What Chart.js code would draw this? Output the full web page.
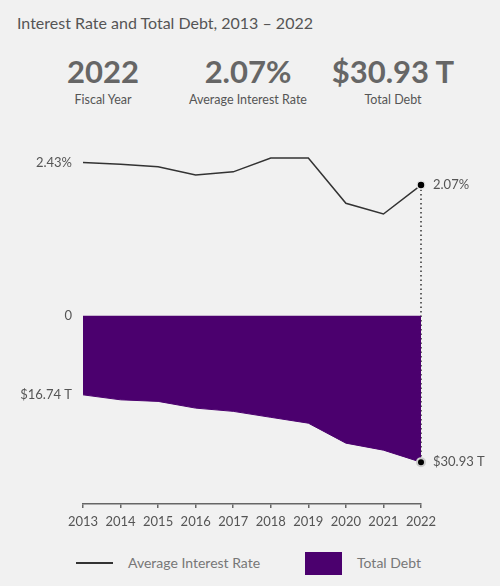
<!DOCTYPE html>
<html>
<head>
<meta charset="utf-8">
<script src="https://cdn.jsdelivr.net/npm/chart.js@4/dist/chart.umd.min.js"></script>
<style>
  body { margin: 0; background: #f1f1f1; font-family: Lato, sans-serif; }
  #wrap { position: relative; width: 500px; height: 586px; background: #f1f1f1; overflow: hidden; }
  #title { position: absolute; left: 17px; top: 13px; font-size: 16px; color: #555; }
  .stat { position: absolute; top: 52px; width: 150px; text-align: center; }
  .stat .num { font-size: 31px; font-weight: bold; color: #666; line-height: 38px; }
  .stat .lbl { font-size: 12.5px; color: #555; margin-top: 2px; }
  #chart { position: absolute; left: 0; top: 114px; }
  .leg { position: absolute; font-size: 14px; color: #777; }
</style>
</head>
<body>
<div id="wrap">
  <div id="title">Interest Rate and Total Debt, 2013 – 2022</div>
  <div class="stat" style="left:28px"><div class="num" id="statYear"></div><div class="lbl">Fiscal Year</div></div>
  <div class="stat" style="left:173px"><div class="num" id="statRate"></div><div class="lbl">Average Interest Rate</div></div>
  <div class="stat" style="left:318px"><div class="num" id="statDebt"></div><div class="lbl">Total Debt</div></div>
  <canvas id="chart" width="500" height="426"></canvas>
  <div style="position:absolute;left:76px;top:562px;width:37px;height:2px;background:#333"></div>
  <div class="leg" style="left:128px;top:554px">Average Interest Rate</div>
  <div style="position:absolute;left:305px;top:552px;width:37px;height:23px;background:#4b006e"></div>
  <div class="leg" style="left:357px;top:554px">Total Debt</div>
</div>
<script>
'use strict'

// ************* Data ****************
let years = ['2013', '2014', '2015', '2016', '2017', '2018', '2019', '2020', '2021', '2022'];
let rates = [2.43, 2.40, 2.36, 2.23, 2.28, 2.50, 2.50, 1.78, 1.61, 2.07];
let debt = [16.74, 17.79, 18.12, 19.54, 20.22, 21.48, 22.71, 26.92, 28.40, 30.93];
let rateTicks = [2.43];
let debtTicks = [0, 16.74];

let purple = '#4b006e';
let last = years.length - 1;

function fmtRate(v) { return v.toFixed(2) + '%'; }
function fmtDebt(v) { return v === 0 ? '0' : '$' + v.toFixed(2) + ' T'; }

document.getElementById('statYear').textContent = years[last];
document.getElementById('statRate').textContent = fmtRate(rates[last]);
document.getElementById('statDebt').textContent = fmtDebt(debt[last]);

function lastOnly(r) {
  return years.map((y, i) => i === last ? r : 0);
}

// dotted connector + end labels
let endLabels = {
  id: 'endLabels',
  beforeDatasetsDraw(chart) {
    let ctx = chart.ctx;
    let x = chart.scales.x.getPixelForValue(last);
    let y1 = chart.scales.yRate.getPixelForValue(rates[last]);
    let y2 = chart.scales.yDebt.getPixelForValue(debt[last]);
    ctx.save();
    ctx.strokeStyle = '#333';
    ctx.lineWidth = 1.5;
    ctx.setLineDash([1.5, 3]);
    ctx.beginPath();
    ctx.moveTo(x, y1);
    ctx.lineTo(x, y2);
    ctx.stroke();
    ctx.restore();
  },
  afterDatasetsDraw(chart) {
    let ctx = chart.ctx;
    let x = chart.scales.x.getPixelForValue(last) + 12;
    ctx.save();
    ctx.font = '13px Lato';
    ctx.fillStyle = '#555';
    ctx.textBaseline = 'middle';
    ctx.textAlign = 'left';
    ctx.fillText(fmtRate(rates[last]), x, chart.scales.yRate.getPixelForValue(rates[last]));
    ctx.fillText(fmtDebt(debt[last]), x, chart.scales.yDebt.getPixelForValue(debt[last]));
    ctx.restore();
  }
};

new Chart(document.getElementById('chart'), {
  type: 'line',
  data: {
    labels: years,
    datasets: [{
      label: 'Average Interest Rate',
      data: rates,
      yAxisID: 'yRate',
      borderColor: '#333',
      borderWidth: 1.5,
      pointRadius: lastOnly(4),
      pointBackgroundColor: '#000',
      pointBorderColor: '#e8e8e8',
      pointBorderWidth: 1.5,
      tension: 0,
      fill: false
    }, {
      label: 'Total Debt',
      data: debt,
      yAxisID: 'yDebt',
      borderColor: purple,
      backgroundColor: purple,
      borderWidth: 1,
      pointRadius: lastOnly(4),
      pointBackgroundColor: '#000',
      pointBorderColor: '#ccc',
      pointBorderWidth: 2,
      tension: 0,
      fill: 'origin'
    }]
  },
  options: {
    responsive: false,
    animation: false,
    layout: { padding: { left: 0, right: 79, top: 0, bottom: 0 } },
    plugins: { legend: { display: false }, tooltip: { enabled: false } },
    scales: {
      x: {
        offset: false,
        grid: { drawOnChartArea: false, drawTicks: true, tickLength: 4, color: '#666', lineWidth: 1.5 },
        border: { color: '#666', width: 1.5 },
        ticks: { color: '#555', font: { family: 'Lato', size: 13 }, padding: 6, maxRotation: 0 },
        afterFit(s) { s.height = 36; }
      },
      yDebt: {
        position: 'left',
        stack: 'left',
        stackWeight: 190,
        reverse: true,
        min: 0,
        max: 39.75,
        grid: { display: false, drawTicks: false },
        border: { display: false },
        ticks: { color: '#555', font: { family: 'Lato', size: 13 }, padding: 11, callback: v => fmtDebt(v) },
        afterBuildTicks(s) { s.ticks = debtTicks.map(v => ({ value: v })); },
        afterFit(s) { s.width = 83; }
      },
      yRate: {
        position: 'left',
        stack: 'left',
        stackWeight: 184,
        min: 0,
        max: 2.90,
        grid: { display: false, drawTicks: false },
        border: { display: false },
        ticks: { color: '#555', font: { family: 'Lato', size: 13 }, padding: 11, callback: v => fmtRate(v) },
        afterBuildTicks(s) { s.ticks = rateTicks.map(v => ({ value: v })); },
        afterFit(s) { s.width = 83; }
      }
    }
  },
  plugins: [endLabels]
});
</script>
</body>
</html>
